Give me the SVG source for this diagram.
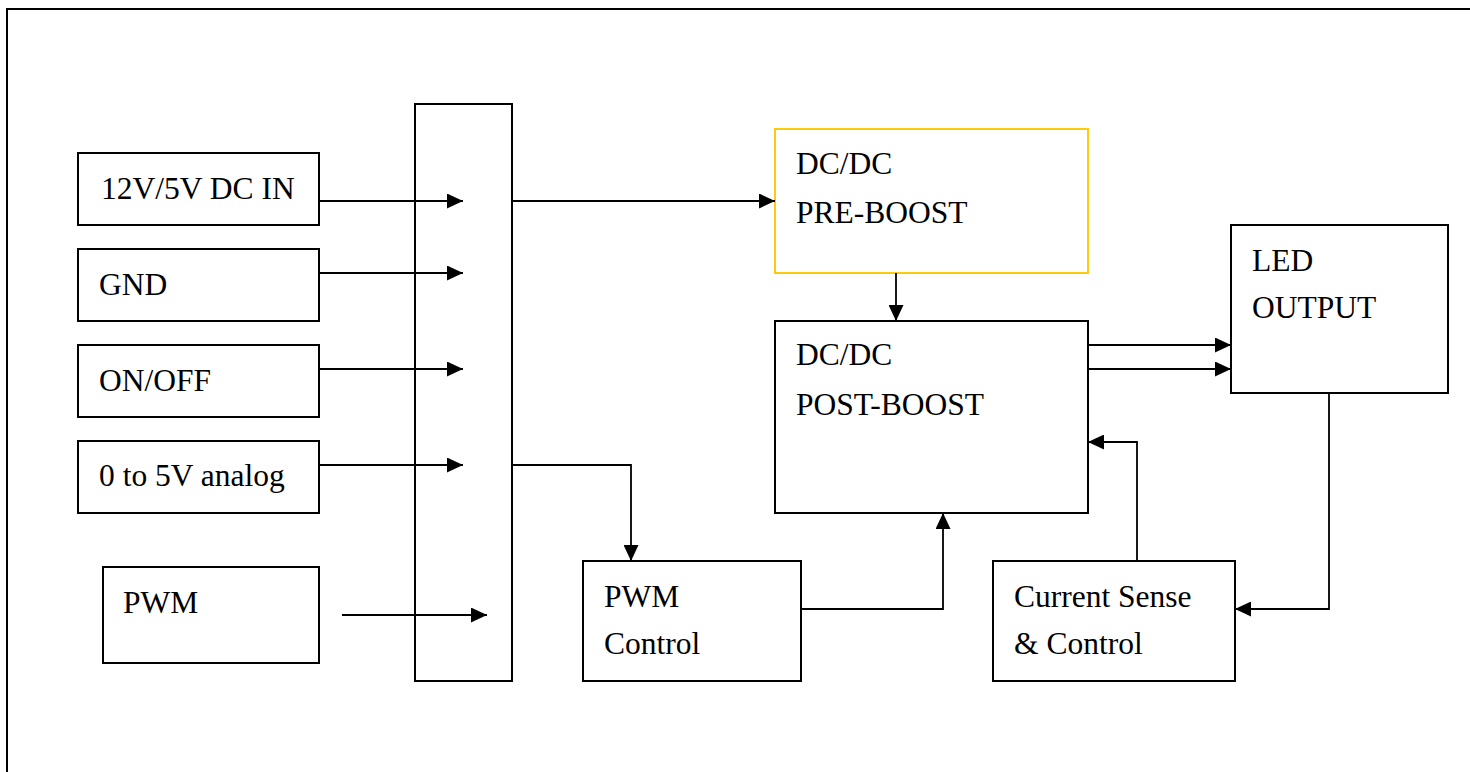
<svg xmlns="http://www.w3.org/2000/svg" width="1470" height="772" viewBox="0 0 1470 772">
<style>
.box{fill:#fff;stroke:#000;stroke-width:2}
.ybox{fill:#fff;stroke:#FFC90E;stroke-width:2}
.t{font-family:"Liberation Serif","Times New Roman",serif;font-size:31.5px;fill:#000}
.c{fill:none;stroke:#000;stroke-width:1.8}
</style>
<defs>
<marker id="ah" markerUnits="userSpaceOnUse" markerWidth="16" markerHeight="15" refX="16" refY="7.5" orient="auto">
<path d="M0,0 L16,7.5 L0,15 Z" fill="#000"/>
</marker>
</defs>
<rect width="1470" height="772" fill="#fff"/>
<path d="M7,772 L7,9 L1475,9" fill="none" stroke="#000" stroke-width="2"/>
<g id="bus"><rect class="box" x="415" y="104" width="97" height="577"/></g>
<g id="dcin"><rect class="box" x="78" y="153" width="241" height="72"/><text class="t" x="101" y="199">12V/5V DC IN</text></g>
<g id="gnd"><rect class="box" x="78" y="249" width="241" height="72"/><text class="t" x="99" y="295">GND</text></g>
<g id="onoff"><rect class="box" x="78" y="345" width="241" height="72"/><text class="t" x="99" y="391">ON/OFF</text></g>
<g id="analog"><rect class="box" x="78" y="441" width="241" height="72"/><text class="t" x="99" y="486">0 to 5V analog</text></g>
<g id="pwm"><rect class="box" x="103" y="567" width="216" height="96"/><text class="t" x="123" y="613">PWM</text></g>
<g id="preboost"><rect class="ybox" x="775" y="129" width="313" height="144"/><text class="t" x="796" y="174">DC/DC</text><text class="t" x="796" y="223">PRE-BOOST</text></g>
<g id="postboost"><rect class="box" x="775" y="321" width="313" height="192"/><text class="t" x="796" y="365">DC/DC</text><text class="t" x="796" y="415">POST-BOOST</text></g>
<g id="led"><rect class="box" x="1231" y="225" width="217" height="168"/><text class="t" x="1252" y="271">LED</text><text class="t" x="1252" y="318">OUTPUT</text></g>
<g id="pwmctrl"><rect class="box" x="583" y="561" width="218" height="120"/><text class="t" x="604" y="607">PWM</text><text class="t" x="604" y="654">Control</text></g>
<g id="cursense"><rect class="box" x="993" y="561" width="242" height="120"/><text class="t" x="1014" y="607">Current Sense</text><text class="t" x="1014" y="654">&amp; Control</text></g>
<g id="connectors">
<path class="c" marker-end="url(#ah)" d="M319,201 L463,201"/>
<path class="c" marker-end="url(#ah)" d="M319,273 L463,273"/>
<path class="c" marker-end="url(#ah)" d="M319,369 L463,369"/>
<path class="c" marker-end="url(#ah)" d="M319,465 L463,465"/>
<path class="c" marker-end="url(#ah)" d="M342,615 L487,615"/>
<path class="c" marker-end="url(#ah)" d="M512,201 L775,201"/>
<path class="c" marker-end="url(#ah)" d="M896,273 L896,321"/>
<path class="c" marker-end="url(#ah)" d="M512,465 L631,465 L631,561"/>
<path class="c" marker-end="url(#ah)" d="M1088,345 L1231,345"/>
<path class="c" marker-end="url(#ah)" d="M1088,369 L1231,369"/>
<path class="c" marker-end="url(#ah)" d="M801,609 L943,609 L943,513"/>
<path class="c" marker-end="url(#ah)" d="M1137,561 L1137,442 L1088,442"/>
<path class="c" marker-end="url(#ah)" d="M1329,393 L1329,609 L1235,609"/>
</g>
</svg>
